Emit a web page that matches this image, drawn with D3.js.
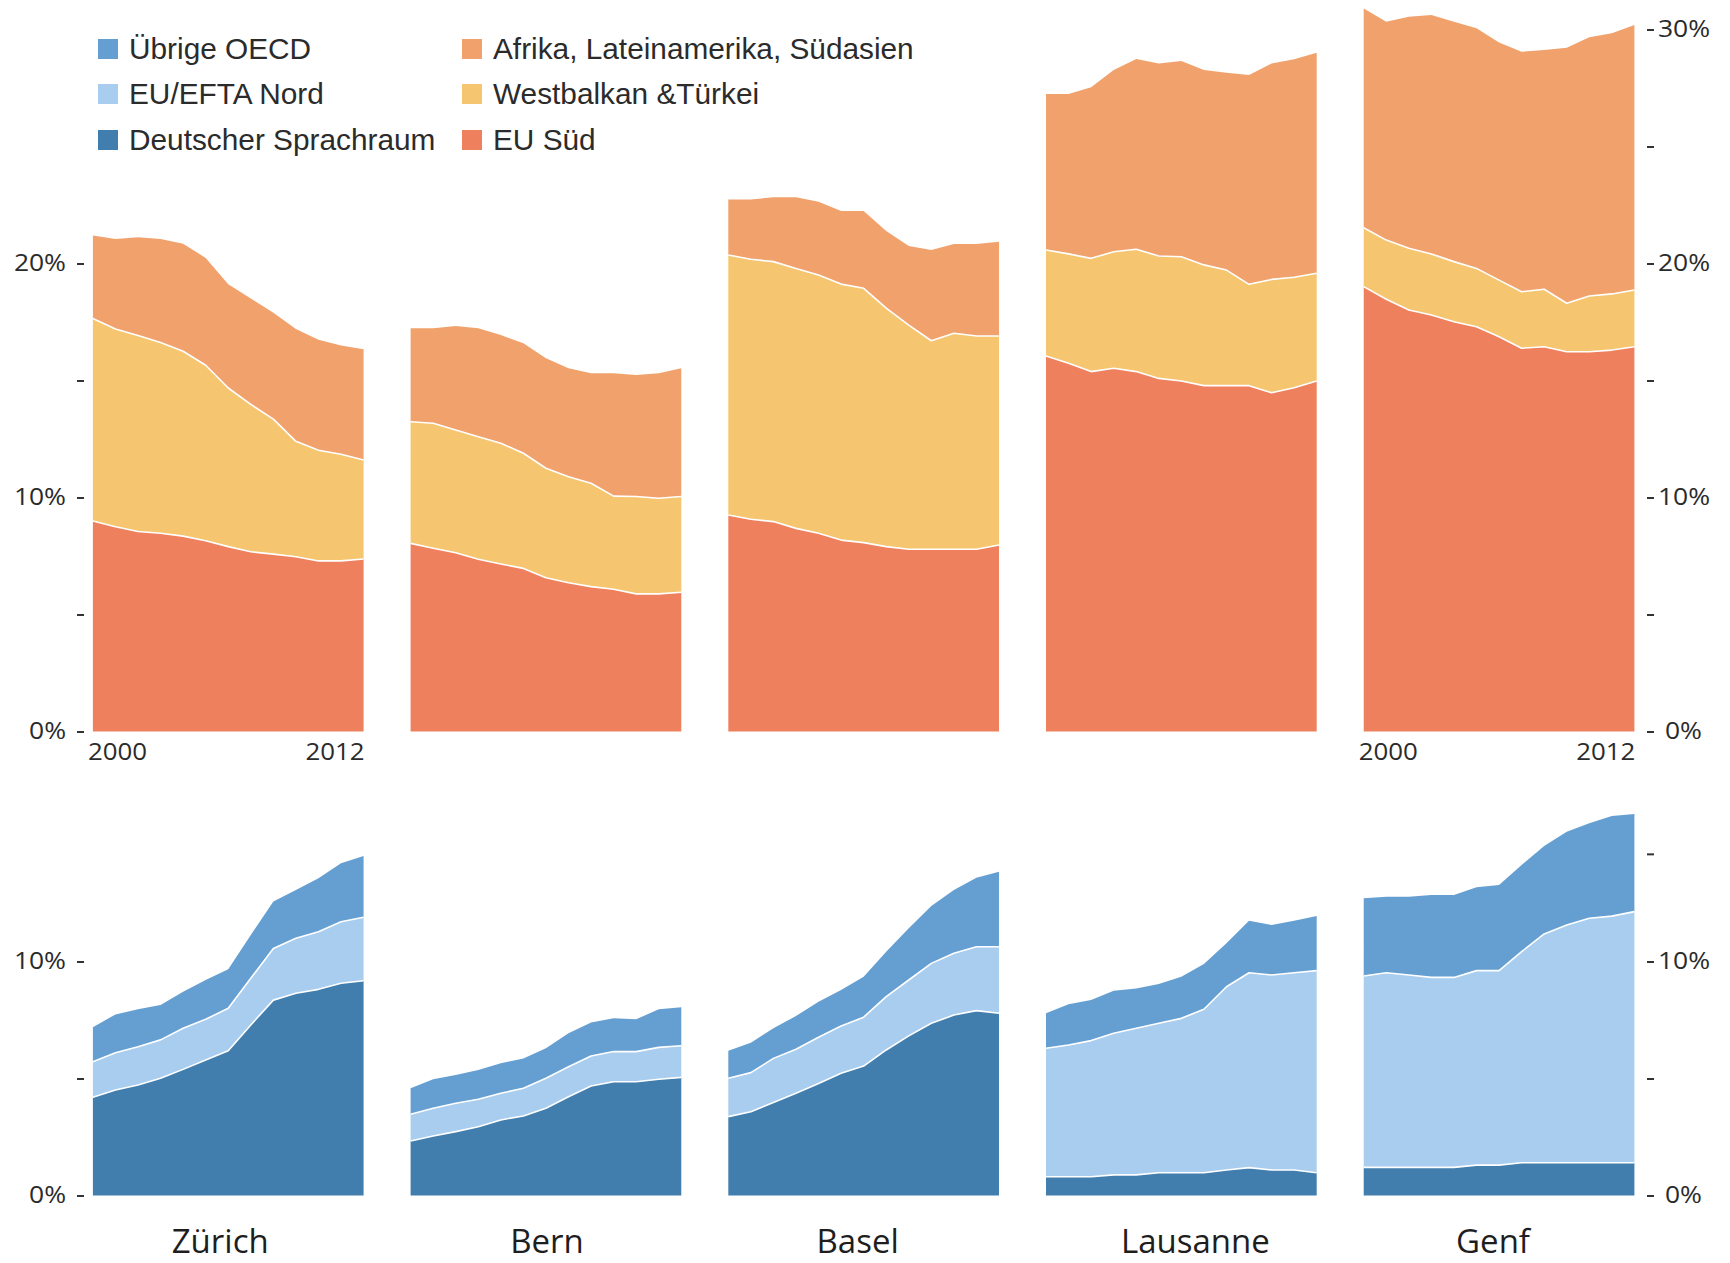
<!DOCTYPE html>
<html><head><meta charset="utf-8">
<script src="https://cdn.jsdelivr.net/npm/d3@7"></script>
<style>body{margin:0;background:#fff} svg{display:block}</style>
</head><body>
<svg id="chart" width="1730" height="1263"></svg>
<script>
// ---------- data ----------
const cities = ["Zürich", "Bern", "Basel", "Lausanne", "Genf"];
const years = [2000, 2001, 2002, 2003, 2004, 2005, 2006, 2007, 2008, 2009, 2010, 2011, 2012];

// upper row (share of population, %), per city in the order of `cities`
const euSued = [
  [9.00, 8.75, 8.55, 8.47, 8.35, 8.15, 7.90, 7.68, 7.58, 7.47, 7.29, 7.29, 7.37],
  [8.04, 7.83, 7.64, 7.36, 7.16, 6.97, 6.57, 6.36, 6.19, 6.08, 5.88, 5.88, 5.95],
  [9.25, 9.07, 8.97, 8.68, 8.47, 8.18, 8.07, 7.90, 7.79, 7.79, 7.79, 7.79, 7.97],
  [16.05, 15.74, 15.38, 15.52, 15.38, 15.09, 14.98, 14.78, 14.78, 14.78, 14.48, 14.69, 14.98],
  [19.01, 18.47, 18.01, 17.80, 17.51, 17.30, 16.87, 16.38, 16.44, 16.23, 16.23, 16.30, 16.44]
];
const westbalkan = [
  [8.65, 8.45, 8.37, 8.15, 7.90, 7.50, 6.78, 6.30, 5.77, 4.93, 4.73, 4.56, 4.23],
  [5.20, 5.34, 5.24, 5.24, 5.16, 4.92, 4.68, 4.53, 4.42, 3.98, 4.16, 4.09, 4.09],
  [11.11, 11.11, 11.11, 11.11, 11.04, 10.94, 10.87, 10.19, 9.58, 8.91, 9.23, 9.11, 8.93],
  [4.53, 4.67, 4.84, 4.98, 5.23, 5.23, 5.31, 5.16, 4.94, 4.33, 4.84, 4.72, 4.60],
  [2.52, 2.53, 2.64, 2.61, 2.57, 2.49, 2.42, 2.41, 2.46, 2.07, 2.38, 2.40, 2.43]
];
const afrika = [
  [3.55, 3.85, 4.20, 4.43, 4.59, 4.59, 4.43, 4.52, 4.55, 4.80, 4.72, 4.65, 4.74],
  [3.99, 4.06, 4.45, 4.63, 4.62, 4.70, 4.70, 4.63, 4.70, 5.25, 5.20, 5.34, 5.48],
  [2.38, 2.56, 2.75, 3.04, 3.13, 3.12, 3.30, 3.30, 3.38, 3.88, 3.81, 3.93, 4.03],
  [6.66, 6.83, 7.31, 7.77, 8.13, 8.23, 8.36, 8.33, 8.43, 8.95, 9.23, 9.32, 9.43],
  [9.37, 9.33, 9.90, 10.21, 10.25, 10.26, 10.15, 10.26, 10.22, 10.92, 11.06, 11.14, 11.32]
];

// lower row
const deutsch = [
  [4.20, 4.51, 4.72, 5.01, 5.39, 5.79, 6.19, 7.29, 8.35, 8.64, 8.81, 9.07, 9.18],
  [2.33, 2.54, 2.73, 2.94, 3.23, 3.40, 3.73, 4.22, 4.68, 4.86, 4.86, 4.97, 5.05],
  [3.37, 3.58, 3.97, 4.37, 4.79, 5.22, 5.53, 6.22, 6.82, 7.36, 7.71, 7.90, 7.79],
  [0.80, 0.80, 0.80, 0.88, 0.88, 0.97, 0.97, 0.97, 1.09, 1.19, 1.09, 1.09, 0.97],
  [1.20, 1.20, 1.20, 1.20, 1.20, 1.30, 1.30, 1.40, 1.40, 1.40, 1.40, 1.40, 1.40]
];
const euEftaNord = [
  [1.52, 1.59, 1.64, 1.64, 1.76, 1.74, 1.81, 1.99, 2.21, 2.35, 2.46, 2.63, 2.71],
  [1.14, 1.19, 1.21, 1.17, 1.14, 1.18, 1.28, 1.28, 1.28, 1.29, 1.29, 1.36, 1.35],
  [1.64, 1.67, 1.89, 1.88, 1.97, 2.02, 2.09, 2.28, 2.39, 2.56, 2.64, 2.73, 2.84],
  [5.49, 5.63, 5.82, 6.05, 6.27, 6.39, 6.60, 6.99, 7.83, 8.33, 8.33, 8.43, 8.64],
  [8.18, 8.32, 8.22, 8.12, 8.12, 8.31, 8.31, 9.02, 9.78, 10.16, 10.45, 10.54, 10.73]
];
const uebrigeOecd = [
  [1.47, 1.64, 1.60, 1.49, 1.56, 1.68, 1.67, 1.85, 2.00, 2.07, 2.29, 2.50, 2.62],
  [1.11, 1.24, 1.21, 1.25, 1.28, 1.28, 1.28, 1.43, 1.43, 1.42, 1.38, 1.63, 1.64],
  [1.18, 1.28, 1.29, 1.42, 1.52, 1.54, 1.73, 1.92, 2.21, 2.45, 2.71, 2.95, 3.21],
  [1.50, 1.74, 1.73, 1.82, 1.70, 1.68, 1.78, 1.93, 1.86, 2.22, 2.14, 2.22, 2.33],
  [3.32, 3.25, 3.35, 3.52, 3.52, 3.56, 3.66, 3.70, 3.76, 3.99, 4.06, 4.28, 4.17]
];

const topKeys = ["EU Süd", "Westbalkan &Türkei", "Afrika, Lateinamerika, Südasien"];
const topColors = ["#ef805e", "#f6c56f", "#f1a26c"];
const botKeys = ["Deutscher Sprachraum", "EU/EFTA Nord", "Übrige OECD"];
const botColors = ["#417eae", "#a8cdee", "#659fd1"];

const legendCol1 = ["Übrige OECD", "EU/EFTA Nord", "Deutscher Sprachraum"];
const legendCol1Colors = ["#659fd1", "#a8cdee", "#417eae"];
const legendCol2 = ["Afrika, Lateinamerika, Südasien", "Westbalkan &Türkei", "EU Süd"];
const legendCol2Colors = ["#f1a26c", "#f6c56f", "#ef805e"];

const leftTopTicks = [0, 5, 10, 15, 20];
const rightTopTicks = [0, 5, 10, 15, 20, 25, 30];
const leftBotTicks = [0, 5, 10];
const rightBotTicks = [0, 5, 10, 14.6];
const yearLabels = [2000, 2012];

// ---------- layout ----------
const svg = d3.select("#chart");
const axisFont = "'Open Sans', 'Noto Sans', sans-serif";
const legendFont = "'Liberation Sans', Arial, sans-serif";
const textColor = "#2b2b2b";
const cityLabelDx = [-8, 1, -6, 14, -6];

const xBand = d3.scaleBand().domain(cities).range([92.9, 1634.4]).paddingInner(0.148).paddingOuter(0);
const xYear = d3.scaleLinear().domain([2000, 2012]).range([0, xBand.bandwidth()]);
const yTop = d3.scaleLinear().domain([0, 30]).range([731.5, 29.5]);
const yBot = d3.scaleLinear().domain([0, 10]).range([1195.5, 961.5]);

// widen text horizontally (reference font is rendered wider)
function stretch(sel, f) {
  sel.each(function () {
    const len = this.getComputedTextLength();
    if (len > 0) d3.select(this).attr("textLength", len * f).attr("lengthAdjust", "spacingAndGlyphs");
  });
}

function drawRow(y, keys, arrays, colors, cls) {
  cities.forEach((c, ci) => {
    const rows = years.map((yr, i) => {
      const o = { year: yr };
      keys.forEach((k, ki) => { o[k] = arrays[ki][ci][i]; });
      return o;
    });
    const stacked = d3.stack().keys(keys)(rows);
    const g = svg.append("g").attr("class", cls).attr("transform", `translate(${xBand(c)},0)`);
    const area = d3.area().x(d => xYear(d.data.year)).y0(d => y(d[0])).y1(d => y(d[1]));
    g.selectAll("path.layer").data(stacked).join("path")
      .attr("class", "layer")
      .attr("fill", (d, i) => colors[i])
      .attr("d", area);
    const line = d3.line().x(d => xYear(d.data.year)).y(d => y(d[1]));
    g.selectAll("path.sep").data(stacked.slice(0, -1)).join("path")
      .attr("class", "sep")
      .attr("fill", "none")
      .attr("stroke", "#ffffff")
      .attr("stroke-width", 1.6)
      .attr("stroke-linejoin", "round")
      .attr("d", line);
  });
}

drawRow(yTop, topKeys, [euSued, westbalkan, afrika], topColors, "row-top");
drawRow(yBot, botKeys, [deutsch, euEftaNord, uebrigeOecd], botColors, "row-bottom");

// ---------- axes ----------
const fmt = d => (d % 10 === 0 ? d + "%" : "");

function styleAxis(g) {
  g.select(".domain").remove();
  g.selectAll(".tick line").attr("stroke", "#333").attr("stroke-width", 2);
  g.selectAll(".tick text")
    .attr("fill", textColor)
    .style("font-family", axisFont)
    .style("font-size", "23px");
}

const leftX = 84, rightX = 1647;
const axes = [];
axes.push(svg.append("g").attr("transform", `translate(${leftX},0)`)
  .call(d3.axisLeft(yTop).tickValues(leftTopTicks).tickFormat(fmt).tickSize(7).tickPadding(11))
  .call(styleAxis));
axes.push(svg.append("g").attr("transform", `translate(${leftX},0)`)
  .call(d3.axisLeft(yBot).tickValues(leftBotTicks).tickFormat(fmt).tickSize(7).tickPadding(11))
  .call(styleAxis));
const rt = svg.append("g").attr("transform", `translate(${rightX},0)`)
  .call(d3.axisRight(yTop).tickValues(rightTopTicks).tickFormat(fmt).tickSize(7).tickPadding(4))
  .call(styleAxis);
const rb = svg.append("g").attr("transform", `translate(${rightX},0)`)
  .call(d3.axisRight(yBot).tickValues(rightBotTicks).tickFormat(fmt).tickSize(7).tickPadding(4))
  .call(styleAxis);
axes.push(rt, rb);
[rt, rb].forEach(g => g.selectAll(".tick text").filter(d => d === 0).attr("dx", 7));
axes.forEach(g => stretch(g.selectAll(".tick text"), 1.15));

// year labels under first and last panel
[cities[0], cities[cities.length - 1]].forEach(c => {
  svg.append("text")
    .attr("class", "year")
    .attr("x", xBand(c) + xYear(yearLabels[0]) - 5)
    .attr("y", 760)
    .attr("text-anchor", "start")
    .attr("fill", textColor)
    .style("font-family", axisFont).style("font-size", "23.5px")
    .text(yearLabels[0]);
  svg.append("text")
    .attr("class", "year")
    .attr("x", xBand(c) + xYear(yearLabels[1]) + 1)
    .attr("y", 760)
    .attr("text-anchor", "end")
    .attr("fill", textColor)
    .style("font-family", axisFont).style("font-size", "23.5px")
    .text(yearLabels[1]);
});
stretch(svg.selectAll("text.year"), 1.1);

// city labels
svg.selectAll("text.city").data(cities).join("text")
  .attr("class", "city")
  .attr("x", (d, i) => xBand(d) + xBand.bandwidth() / 2 + cityLabelDx[i])
  .attr("y", 1253)
  .attr("text-anchor", "middle")
  .attr("fill", "#1e1e1e")
  .style("font-family", axisFont).style("font-size", "33px")
  .text(d => d);

// ---------- legend ----------
const legendRowsY = [49, 94, 140];
function drawLegend(labels, colors, x) {
  const g = svg.append("g");
  labels.forEach((lab, i) => {
    g.append("rect").attr("x", x).attr("y", legendRowsY[i] - 10)
      .attr("width", 20).attr("height", 20).attr("fill", colors[i]);
    g.append("text").attr("x", x + 31).attr("y", legendRowsY[i] + 10)
      .attr("fill", textColor)
      .style("font-family", legendFont).style("font-size", "29.8px")
      .text(lab);
  });
}
drawLegend(legendCol1, legendCol1Colors, 98);
drawLegend(legendCol2, legendCol2Colors, 462);
</script>
</body></html>
